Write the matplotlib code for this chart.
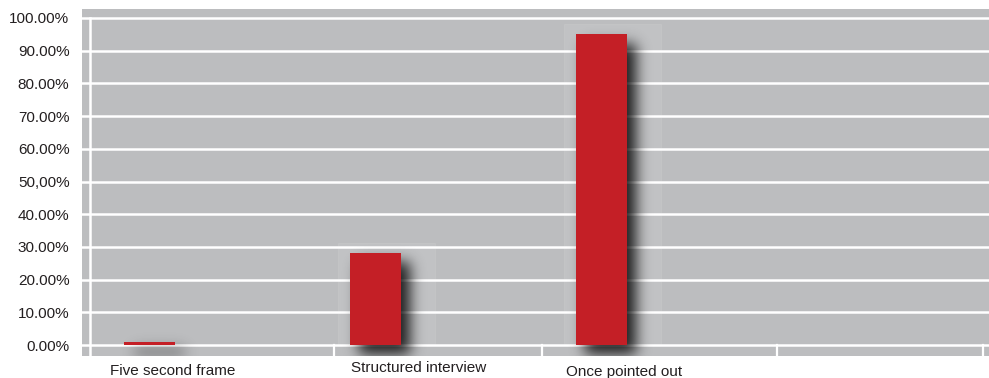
import numpy as np
import matplotlib.pyplot as plt
from matplotlib.patches import Rectangle
from matplotlib.transforms import blended_transform_factory

categories = ['Five second frame', 'Structured interview', 'Once pointed out']
shares = [1.0, 28.0, 95.0]
y_ticks = [0, 10, 20, 30, 40, 50, 60, 70, 80, 90, 100]
y_labels = ['0.00%', '10.00%', '20.00%', '30.00%', '40.00%', '50,00%',
            '60.00%', '70.00%', '80.00%', '90.00%', '100.00%']

# label placement relative to each bar (x shift in category units, y in axes fraction)
label_shift = [0.10, 0.19, 0.10]
label_drop = [-0.042, -0.035, -0.045]
# white ticks in the strip under the zero line
separators = [0.815, 1.735, 2.775, 3.687]

BG = '#bcbdbf'
RED = '#c41f26'
TXT = '#231f20'

plt.rcParams['font.family'] = ['Liberation Sans', 'DejaVu Sans']


def gauss_blur(a, sigma):
    r = int(3 * sigma)
    k = np.exp(-0.5 * (np.arange(-r, r + 1) / sigma) ** 2)
    k /= k.sum()
    a = np.apply_along_axis(lambda v: np.convolve(v, k, mode='same'), 1, a)
    a = np.apply_along_axis(lambda v: np.convolve(v, k, mode='same'), 0, a)
    return a


fig = plt.figure(figsize=(9.89, 3.78), dpi=100)
ax = fig.add_axes([82 / 989, 22 / 378, 907 / 989, 347 / 378])
ax.set_facecolor(BG)
xmin, xmax = -0.3, 3.713
ymin, ymax = -3.36, 102.75
for s in ax.spines.values():
    s.set_visible(False)

x = np.arange(len(categories))
width = 0.226

# grid
for t in y_ticks:
    ax.axhline(t, color='white', lw=1.8, zorder=1)
ax.plot([-0.265, -0.265], [ymin, 100], color='white', lw=1.8, zorder=1)
for sx in separators:
    ax.plot([sx, sx], [ymin, 0], color='white', lw=1.6, zorder=1)

# soft light box behind the taller bars
for xi, h in zip(x, shares):
    if h > 10:
        ax.add_patch(Rectangle((xi - width / 2 - 0.053, 0), width + 0.2, h + 3.2,
                               facecolor='white', alpha=0.08, edgecolor='white',
                               lw=0.8, zorder=1.5))

# drop shadow
W, H = 907, 347
gx = np.linspace(xmin, xmax, W)
gy = np.linspace(ymin, ymax, H)
mask = np.zeros((H, W))
dx = 9 / 226
dy = 9 / 3.27
for xi, h in zip(x, shares):
    cols = (gx >= xi - width / 2 + dx) & (gx <= xi + width / 2 + dx)
    rows = (gy >= -dy) & (gy <= h - dy)
    mask[np.ix_(rows, cols)] = 1
mask = gauss_blur(mask, 7)
rgba = np.zeros((H, W, 4))
rgba[..., 3] = 0.85 * mask
ax.imshow(rgba, extent=(xmin, xmax, ymin, ymax), origin='lower',
          aspect='auto', zorder=2, interpolation='bilinear')

ax.bar(x, shares, width=width, color=RED, zorder=3)

ax.set_xlim(xmin, xmax)
ax.set_ylim(ymin, ymax)
ax.set_yticks(y_ticks, y_labels)
ax.set_xticks([])
ax.tick_params(axis='y', length=0, pad=9, labelsize=11, labelcolor=TXT)

trans = blended_transform_factory(ax.transData, ax.transAxes)
for xi, name, sh, dr in zip(x, categories, label_shift, label_drop):
    ax.text(xi + sh, dr, name, transform=trans, ha='center', va='center',
            fontsize=11, color=TXT)

fig.savefig('out.png', dpi=100)
